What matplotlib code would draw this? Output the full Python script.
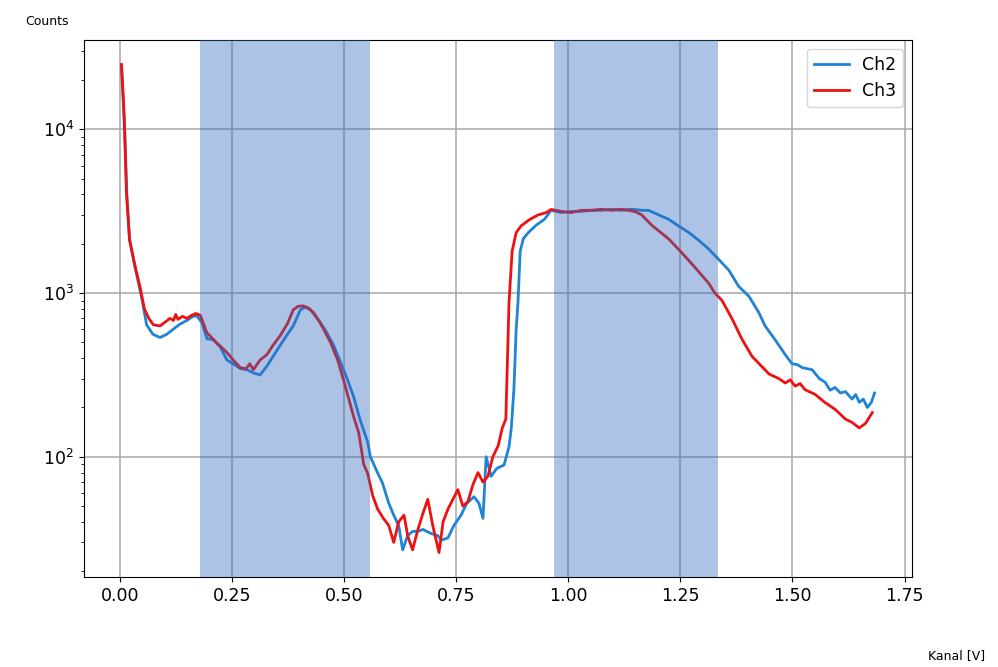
import numpy as np
import matplotlib
matplotlib.use("Agg")
import matplotlib.pyplot as plt

# ============================
# DATA
# ============================
ch2_x = [0.004, 0.011, 0.016, 0.022, 0.034, 0.051, 0.060, 0.074, 0.090, 0.105,
         0.119, 0.134, 0.150, 0.163, 0.172, 0.183, 0.195, 0.208, 0.224, 0.239,
         0.253, 0.269, 0.284, 0.298, 0.313, 0.329, 0.342, 0.358, 0.374, 0.387,
         0.403, 0.414, 0.425, 0.441, 0.459, 0.477, 0.492, 0.508, 0.521, 0.537,
         0.553, 0.559, 0.573, 0.586, 0.600, 0.611, 0.622, 0.631, 0.642, 0.653,
         0.665, 0.676, 0.694, 0.709, 0.718, 0.732, 0.745, 0.761, 0.774, 0.790,
         0.801, 0.810, 0.817, 0.828, 0.841, 0.857, 0.868, 0.873, 0.879, 0.884,
         0.888, 0.893, 0.900, 0.911, 0.929, 0.947, 0.962, 0.985, 1.007, 1.029,
         1.052, 1.074, 1.096, 1.119, 1.141, 1.164, 1.179, 1.202, 1.224, 1.246,
         1.269, 1.291, 1.313, 1.336, 1.358, 1.380, 1.403, 1.425, 1.439, 1.461,
         1.484, 1.499, 1.511, 1.522, 1.533, 1.544, 1.560, 1.573, 1.584, 1.595,
         1.607, 1.618, 1.633, 1.641, 1.649, 1.658, 1.667, 1.676, 1.683]
ch2_y = [24000, 10000, 4000, 2100, 1450, 880, 640, 560, 535, 560,
         600, 645, 680, 720, 725, 660, 525, 520, 470, 390,
         370, 345, 340, 325, 316, 360, 410, 480, 560, 630,
         790, 820, 790, 700, 590, 480, 380, 295, 235, 165,
         123, 100, 82, 69, 52, 44, 38, 27, 33, 35,
         35, 36, 34, 33, 31, 32, 38, 44, 52, 57,
         52, 42, 100, 76, 85, 89, 115, 148, 260, 600,
         870, 1800, 2150, 2340, 2600, 2820, 3200, 3100, 3150, 3150,
         3200, 3200, 3250, 3200, 3250, 3200, 3200, 3000, 2820, 2570,
         2340, 2100, 1860, 1600, 1380, 1100, 955, 760, 630, 520,
         420, 370, 365, 350, 345, 340, 300, 285, 255, 265,
         245, 250, 225, 240, 215, 225, 200, 215, 245]

ch3_x = [0.004, 0.009, 0.011, 0.015, 0.022, 0.034, 0.045, 0.051, 0.055, 0.065,
         0.075, 0.090, 0.100, 0.112, 0.120, 0.125, 0.130, 0.140, 0.150, 0.160,
         0.170, 0.180, 0.194, 0.215, 0.239, 0.253, 0.269, 0.282, 0.290, 0.298,
         0.313, 0.328, 0.342, 0.358, 0.374, 0.387, 0.398, 0.409, 0.421, 0.432,
         0.448, 0.470, 0.486, 0.499, 0.510, 0.521, 0.533, 0.544, 0.553, 0.564,
         0.575, 0.588, 0.600, 0.611, 0.622, 0.634, 0.642, 0.653, 0.665, 0.676,
         0.687, 0.698, 0.712, 0.721, 0.732, 0.743, 0.754, 0.765, 0.776, 0.788,
         0.799, 0.810, 0.821, 0.832, 0.844, 0.853, 0.861, 0.868, 0.875, 0.884,
         0.895, 0.913, 0.933, 0.951, 0.962, 0.985, 1.007, 1.029, 1.052, 1.074,
         1.096, 1.119, 1.148, 1.164, 1.186, 1.224, 1.246, 1.269, 1.291, 1.313,
         1.327, 1.343, 1.365, 1.387, 1.410, 1.448, 1.470, 1.484, 1.495, 1.506,
         1.517, 1.528, 1.551, 1.573, 1.595, 1.618, 1.633, 1.649, 1.663, 1.678]
ch3_y = [24900, 14000, 10000, 4100, 2130, 1470, 1100, 910, 800, 700,
         640, 630, 660, 700, 680, 740, 690, 720, 700, 730,
         750, 730, 575, 500, 434, 390, 350, 345, 370, 340,
         390, 420, 480, 550, 650, 790, 830, 835, 810, 760,
         650, 500, 390, 295, 230, 178, 140, 90, 79, 58,
         48, 42, 38, 30, 40, 44, 33, 27, 36, 45,
         55, 38, 26, 40, 48, 55, 63, 50, 53, 68,
         80, 70, 76, 100, 117, 150, 170, 870, 1800, 2340,
         2570, 2800, 3000, 3100, 3240, 3150, 3100, 3200, 3200, 3250,
         3200, 3250, 3150, 3000, 2600, 2140, 1850, 1580, 1350, 1150,
         1000, 900, 700, 525, 410, 320, 300, 282, 295, 270,
         280, 257, 240, 214, 195, 170, 162, 150, 160, 186]

labels = ["Ch2", "Ch3"]
spans = [(0.18, 0.557), (0.968, 1.335)]

# ============================
# PLOT
# ============================
fig = plt.figure(figsize=(9.98, 6.67), dpi=100)
ax = fig.add_axes([0.084, 0.135, 0.83, 0.805])

ax.semilogy(ch2_x, ch2_y, color="#1f83d6", linewidth=2.0, label=labels[0])
ax.semilogy(ch3_x, ch3_y, color="#ee1111", linewidth=2.0, label=labels[1])

for x0, x1 in spans:
    ax.axvspan(x0, x1, color="#3269c0", alpha=0.4, linewidth=0, zorder=3)

ax.grid(True, color="#a8a8a8", linewidth=1.1)
ax.tick_params(labelsize=12.5)
ax.set_xticks([0.0, 0.25, 0.5, 0.75, 1.0, 1.25, 1.5, 1.75])
ax.set_xticklabels(["0.00", "0.25", "0.50", "0.75", "1.00", "1.25", "1.50", "1.75"])

ax.legend(loc="upper right", fontsize=12.5)

fig.text(0.025, 0.962, "Counts", fontsize=9)
fig.text(0.987, 0.012, "Kanal [V]", fontsize=9, ha="right")

fig.savefig("out.png", dpi=100)
